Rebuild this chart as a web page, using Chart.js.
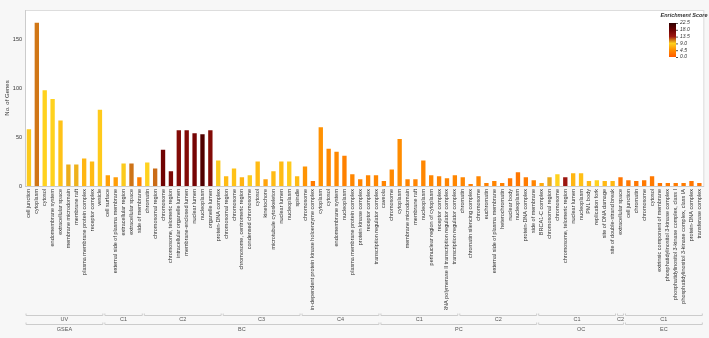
<!DOCTYPE html>
<html>
<head>
<meta charset="utf-8">
<script src="https://cdn.jsdelivr.net/npm/chart.js@4.4.1/dist/chart.umd.min.js"></script>
<style>
  html, body { margin: 0; padding: 0; background: #f7f7f7; }
  #wrap { width: 709px; height: 338px; position: relative; }
</style>
</head>
<body>
<div id="wrap"><canvas id="goChart"></canvas></div>
<script>
// GO cellular component terms, one bar each
const terms = [
  'cell junction', 'cytoplasm', 'cytosol', 'endomembrane system', 'extracellular space',
  'membrane microdomain', 'membrane raft', 'plasma membrane protein complex', 'receptor complex', 'vesicle',
  'cell surface', 'external side of plasma membrane', 'extracellular region', 'extracellular space', 'side of membrane',
  'chromatin', 'chromosomal region', 'chromosome', 'chromosome, telomeric region', 'intracellular organelle lumen',
  'membrane-enclosed lumen', 'nuclear lumen', 'nucleoplasm', 'organelle lumen', 'protein-DNA complex',
  'chromosomal region', 'chromosome', 'chromosome, centromeric region', 'condensed chromosome', 'cytosol',
  'kinetochore', 'microtubule cytoskeleton', 'nuclear lumen', 'nucleoplasm', 'spindle',
  'chromosome', 'cyclin-dependent protein kinase holoenzyme complex', 'cytoplasm', 'cytosol', 'endomembrane system',
  'nucleoplasm', 'plasma membrane protein complex', 'protein kinase complex', 'receptor complex', 'transcription regulator complex',
  'caveola', 'chromosome', 'cytoplasm', 'membrane microdomain', 'membrane raft',
  'nucleoplasm', 'perinuclear region of cytoplasm', 'receptor complex', 'RNA polymerase II transcription regulator complex', 'transcription regulator complex',
  'chromatin', 'chromatin silencing complex', 'chromosome', 'euchromatin', 'external side of plasma membrane',
  'heterochromatin', 'nuclear body', 'nucleoplasm', 'protein-DNA complex', 'side of membrane',
  'BRCA1-C complex', 'chromosomal region', 'chromosome', 'chromosome, telomeric region', 'nuclear lumen',
  'nucleoplasm', 'PML body', 'replication fork', 'site of DNA damage', 'site of double-strand break',
  'extracellular space',
  'cell junction', 'chromatin', 'chromosome', 'cytosol', 'extrinsic component of membrane',
  'phosphatidylinositol 3-kinase complex', 'phosphatidylinositol 3-kinase complex, class I', 'phosphatidylinositol 3-kinase complex, class IA', 'protein-DNA complex', 'transferase complex'
];

const geneCounts = [
  58, 167, 98, 89, 67, 22, 22, 28, 25, 78,
  11, 9, 23, 23, 9,
  24, 18, 37, 15, 57, 57, 54, 53, 57, 26,
  10, 18, 9, 11, 25, 7, 15, 25, 25, 10,
  20, 5, 60, 38, 35, 31, 12, 7, 11, 11,
  5, 17, 48, 7, 7, 26, 11, 10, 8, 11,
  9, 2, 10, 3, 5, 3, 8, 14, 9, 6,
  3, 9, 12, 9, 13, 13, 5, 6, 5, 5,
  9,
  6, 5, 6, 10, 3, 3, 3, 3, 5, 3
];

const enrichScores = [
  9.2, 11.2, 9, 9, 8, 9.9, 9.8, 7.2, 7.5, 8.5,
  5.8, 5.6, 9.2, 11.3, 3.5,
  9, 11.5, 17.5, 16.5, 16, 16, 17, 20, 16, 9.2,
  7.5, 8, 7, 9.2, 7.5, 6, 7.5, 7.5, 8.5, 7.5,
  5, 3, 4.8, 4.2, 4.2, 3.5, 4, 3.8, 4, 4,
  3.8, 4.2, 4.5, 3.8, 3.8, 4, 4, 3.8, 3.8, 4,
  4, 3.2, 4, 3.5, 3.8, 3.5, 2.5, 2.5, 3, 3.8,
  6.5, 10, 9, 13.8, 7.2, 7.8, 7.3, 9, 7.3, 7.3,
  2.5,
  2.5, 2.5, 2.8, 2.8, 2.5, 3, 3, 3, 2.5, 2.3
];

const clusterNames = ['UV', 'C1', 'C2', 'C3', 'C4', 'C1', 'C2', 'C1', 'C2', 'C1'];
const clusterSizes = [10, 5, 10, 10, 10, 10, 10, 10, 1, 10];
const sourceNames = ['GSEA', 'BC', 'PC', 'OC', 'EC'];
const sourceSizes = [10, 35, 20, 11, 10];

const yTicks = [0, 50, 100, 150];
const scoreTicks = [0, 4.5, 9, 13.5, 18, 22.5];
const scoreColors = ['#ff5a00', '#ff8c00', '#ffd21e', '#a01810', '#6a0000', '#300000'];

const FONT = "'Liberation Sans', Arial, sans-serif";

function hexToRgb(h) {
  return [parseInt(h.slice(1, 3), 16), parseInt(h.slice(3, 5), 16), parseInt(h.slice(5, 7), 16)];
}

function scoreColor(s) {
  for (let i = 0; i < scoreTicks.length - 1; i++) {
    if (s <= scoreTicks[i + 1] || i === scoreTicks.length - 2) {
      const t = Math.max(0, Math.min(1, (s - scoreTicks[i]) / (scoreTicks[i + 1] - scoreTicks[i])));
      const a = hexToRgb(scoreColors[i]);
      const b = hexToRgb(scoreColors[i + 1]);
      const c = a.map((v, k) => Math.round(v + (b[k] - v) * t));
      return `rgb(${c[0]},${c[1]},${c[2]})`;
    }
  }
}

// white plot panel behind the bars
const panelPlugin = {
  id: 'panel',
  beforeDraw(chart) {
    const { ctx, chartArea: a } = chart;
    ctx.save();
    ctx.fillStyle = '#ffffff';
    ctx.fillRect(a.left, a.top, a.right - a.left, a.bottom - a.top);
    ctx.strokeStyle = '#dddddd';
    ctx.lineWidth = 1;
    ctx.strokeRect(a.left + 0.5, a.top + 0.5, a.right - a.left, a.bottom - a.top);
    ctx.restore();
  }
};

// two rows of group labels under the tick labels
const groupPlugin = {
  id: 'groups',
  afterDraw(chart) {
    const { ctx } = chart;
    const x = chart.scales.x;
    const half = (x.getPixelForValue(1) - x.getPixelForValue(0)) / 2;
    const drawRow = (names, sizes, lineY, textY) => {
      let start = 0;
      names.forEach((name, i) => {
        const end = start + sizes[i] - 1;
        const l = x.getPixelForValue(start) - half + 1;
        const r = x.getPixelForValue(end) + half - 1;
        ctx.strokeStyle = '#cccccc';
        ctx.lineWidth = 1;
        ctx.beginPath();
        ctx.moveTo(l, lineY - 1.5);
        ctx.lineTo(l, lineY + 0.5);
        ctx.lineTo(r, lineY + 0.5);
        ctx.lineTo(r, lineY - 1.5);
        ctx.stroke();
        ctx.fillStyle = '#555555';
        ctx.font = `5.5px ${FONT}`;
        ctx.textAlign = 'center';
        ctx.textBaseline = 'middle';
        ctx.fillText(name, (l + r) / 2, textY);
        start = end + 1;
      });
    };
    ctx.save();
    drawRow(clusterNames, clusterSizes, 315, 319.5);
    drawRow(sourceNames, sourceSizes, 324, 329);
    ctx.restore();
  }
};

// colour bar legend for the enrichment score
const colorBarPlugin = {
  id: 'colorBar',
  afterDraw(chart) {
    const { ctx } = chart;
    const bx = 669, by = 23, bw = 7, bh = 34;
    const max = scoreTicks[scoreTicks.length - 1];
    ctx.save();
    const g = ctx.createLinearGradient(0, by + bh, 0, by);
    scoreTicks.forEach((t, i) => g.addColorStop(t / max, scoreColors[i]));
    ctx.fillStyle = g;
    ctx.fillRect(bx, by, bw, bh);
    ctx.fillStyle = '#333333';
    ctx.font = `italic bold 5.5px ${FONT}`;
    ctx.textAlign = 'center';
    ctx.textBaseline = 'middle';
    ctx.fillText('Enrichment Score', 684, 15.5);
    ctx.font = `italic 5px ${FONT}`;
    ctx.textAlign = 'left';
    ctx.strokeStyle = '#555555';
    scoreTicks.forEach(t => {
      const yy = by + bh - (t / max) * bh;
      ctx.beginPath();
      ctx.moveTo(bx + bw, yy + 0.5);
      ctx.lineTo(bx + bw + 2, yy + 0.5);
      ctx.stroke();
      ctx.fillText(t.toFixed(1), bx + bw + 4, yy);
    });
    ctx.restore();
  }
};

new Chart(document.getElementById('goChart'), {
  type: 'bar',
  data: {
    labels: terms,
    datasets: [{
      label: 'No. of Genes',
      data: geneCounts,
      backgroundColor: enrichScores.map(scoreColor),
      borderWidth: 0,
      barPercentage: 0.55,
      categoryPercentage: 1.0
    }]
  },
  options: {
    responsive: true,
    maintainAspectRatio: false,
    animation: false,
    layout: { padding: { left: 0, right: 4, top: 10, bottom: 28 } },
    plugins: { legend: { display: false }, tooltip: { enabled: false } },
    scales: {
      x: {
        grid: { display: false, drawTicks: false },
        border: { display: true, color: '#cccccc' },
        ticks: {
          autoSkip: false,
          maxRotation: 90,
          minRotation: 90,
          padding: 3,
          color: '#333333',
          font: { family: FONT, size: 5.5 }
        },
        afterFit: (scale) => { scale.height = 124; }
      },
      y: {
        min: 0,
        max: 180,
        grid: { display: false, drawTicks: false },
        border: { display: true, color: '#cccccc' },
        afterBuildTicks: (scale) => { scale.ticks = yTicks.map(v => ({ value: v })); },
        ticks: {
          color: '#333333',
          padding: 3,
          font: { family: FONT, size: 5.5 }
        },
        title: {
          display: true,
          text: 'No. of Genes',
          color: '#333333',
          padding: { top: 4, bottom: 0 },
          font: { family: FONT, size: 6 }
        },
        afterFit: (scale) => { scale.width = 25; }
      }
    }
  },
  plugins: [panelPlugin, groupPlugin, colorBarPlugin]
});
</script>
</body>
</html>
